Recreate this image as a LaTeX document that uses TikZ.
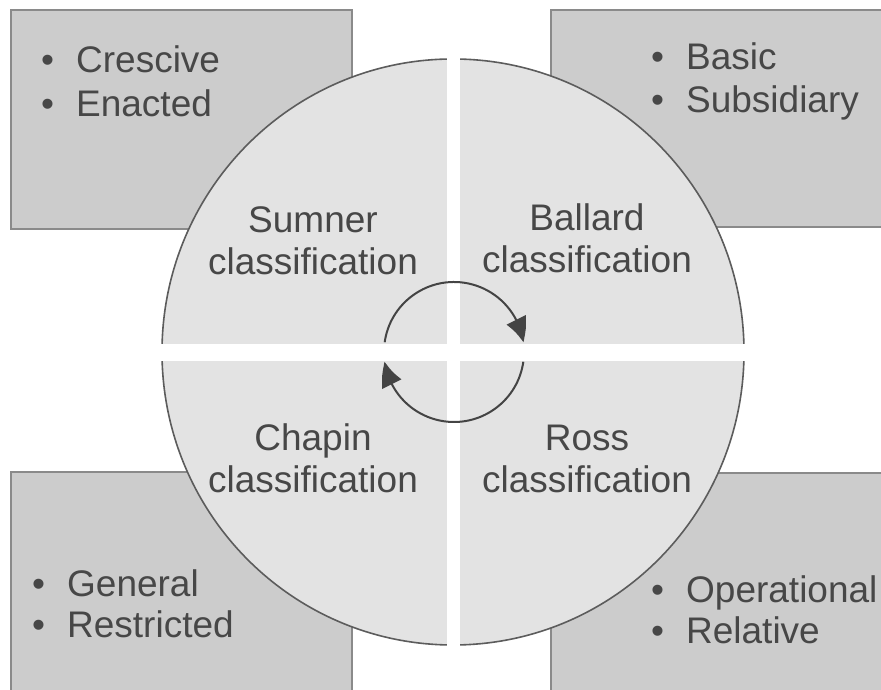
\documentclass[tikz,border=0pt]{standalone}
\usepackage{fontspec}
\setmainfont{Liberation Sans}
\usetikzlibrary{arrows.meta,bending}
\definecolor{boxfill}{HTML}{CCCCCC}
\definecolor{boxline}{HTML}{8A8A8A}
\definecolor{discfill}{HTML}{E3E3E3}
\definecolor{discline}{HTML}{5C5C5C}
\definecolor{ink}{HTML}{474747}
\definecolor{cyc}{HTML}{444444}
\tikzset{
  panel/.style={fill=boxfill, draw=boxline, line width=2pt},
  label/.style={font=\fontsize{37}{42}\selectfont, text=ink, inner sep=0pt},
  item/.style={label, anchor=base west},
  title/.style={label, align=center, anchor=base},
  cycle/.style={draw=cyc, line width=2pt, -{Triangle[length=24pt,width=21pt,bend]}},
}
\newcommand{\itm}[1]{\makebox[35pt][l]{\textbullet}#1}
\begin{document}
\begin{tikzpicture}[x=1pt,y=1pt]
  \useasboundingbox (0,0) rectangle (881,690);
  \clip (0,0) rectangle (881,690);
  \fill[white] (0,0) rectangle (881,690);

  % four corner panels
  \draw[panel] (11,461) rectangle (352,680);
  \draw[panel] (551,463) rectangle (895,680);
  \draw[panel] (11,-5) rectangle (352,218);
  \draw[panel] (551,-5) rectangle (895,217);

  % central disc, split into quadrants by a white cross
  \coordinate (c) at (453,338);
  \draw[fill=discfill, draw=discline, line width=1.6pt] (c) ellipse [x radius=291, y radius=293];
  \fill[white] (140,329) rectangle (770,346);
  \fill[white] (447,30) rectangle (460,660);

  % panel lists
  \node[item] (cr) at (41,617) {\itm{Crescive}};
  \node[item] (en) at (41,573) {\itm{Enacted}};
  \node[item] (ba) at (651,620) {\itm{Basic}};
  \node[item] (su) at (651,577) {\itm{Subsidiary}};
  \node[item] (ge) at (32,93) {\itm{General}};
  \node[item] (re) at (32,52) {\itm{Restricted}};
  \node[item] (op) at (651,87) {\itm{Operational}};
  \node[item] (rl) at (651,46) {\itm{Relative}};

  % quadrant titles (anchored on the baseline of the second line)
  \node[title] (sumner) at (313,415) {Sumner\\classification};
  \node[title] (ballard) at (587,417) {Ballard\\classification};
  \node[title] (chapin) at (313,197) {Chapin\\classification};
  \node[title] (ross) at (587,197) {Ross\\classification};

  % cycle arrows around the centre
  \coordinate (k) at (454,338);
  \draw[cycle] (k) ++(172:70) arc[start angle=172, end angle=8, radius=70];
  \draw[cycle] (k) ++(-8:70) arc[start angle=-8, end angle=-172, radius=70];
\end{tikzpicture}
\end{document}
